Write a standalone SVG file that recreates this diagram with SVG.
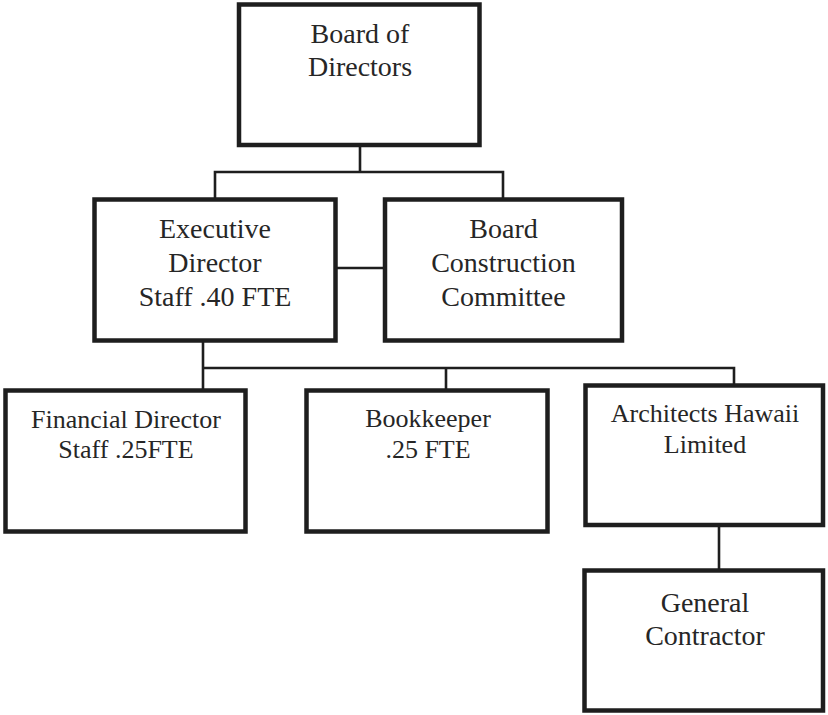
<svg xmlns="http://www.w3.org/2000/svg" width="828" height="715" viewBox="0 0 828 715">
<style>
.box{fill:#fff;stroke:#1e1e1e;stroke-width:4.5}
.ln{fill:none;stroke:#1e1e1e;stroke-width:2.6}
text{font-family:"Liberation Serif","Times New Roman",serif;fill:#262626;text-anchor:middle}
.big{font-size:28px}
.sm{font-size:26px}
</style>
<rect width="828" height="715" fill="#fff"/>
<g id="connectors">
<path class="ln" d="M360 145V172M215 199.5V172H503V199.5"/>
<path class="ln" d="M335.5 268H385"/>
<path class="ln" d="M203 340.5V390.5M203 368H734V385.5M446 368V390.5"/>
<path class="ln" d="M719 525V570.5"/>
</g>
<g id="board">
<rect class="box" x="239" y="4.5" width="240.5" height="140.5"/>
<text class="big" x="360" y="43">Board of</text>
<text class="big" x="360" y="76">Directors</text>
</g>
<g id="executive">
<rect class="box" x="94.5" y="199.5" width="241" height="141"/>
<text class="big" x="215" y="238">Executive</text>
<text class="big" x="215" y="272">Director</text>
<text class="big" x="215" y="306">Staff .40 FTE</text>
</g>
<g id="construction">
<rect class="box" x="385" y="199.5" width="237" height="141"/>
<text class="big" x="503.5" y="238">Board</text>
<text class="big" x="503.5" y="272">Construction</text>
<text class="big" x="503.5" y="306">Committee</text>
</g>
<g id="financial">
<rect class="box" x="5.5" y="390.5" width="240" height="141"/>
<text class="sm" x="126" y="428">Financial Director</text>
<text class="sm" x="126" y="458">Staff .25FTE</text>
</g>
<g id="bookkeeper">
<rect class="box" x="306.5" y="390.5" width="241" height="141"/>
<text class="sm" x="428" y="427">Bookkeeper</text>
<text class="sm" x="428" y="458">.25 FTE</text>
</g>
<g id="architects">
<rect class="box" x="585.5" y="385.5" width="237.5" height="139.5"/>
<text class="sm" x="705" y="422">Architects Hawaii</text>
<text class="sm" x="705" y="453">Limited</text>
</g>
<g id="contractor">
<rect class="box" x="584.5" y="570.5" width="238.5" height="140"/>
<text class="big" x="705" y="612">General</text>
<text class="big" x="705" y="645">Contractor</text>
</g>
</svg>
